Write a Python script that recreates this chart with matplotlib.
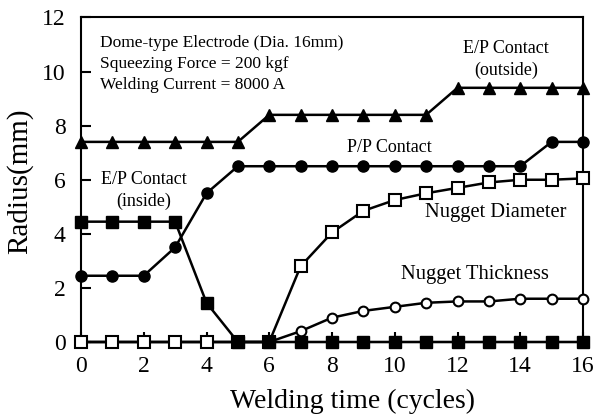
import matplotlib
matplotlib.use("Agg")
import matplotlib.pyplot as plt

plt.rcParams['font.family'] = ['Liberation Serif', 'DejaVu Serif']

cycles = list(range(0, 17))
ep_outside = [7.4, 7.4, 7.4, 7.4, 7.4, 7.4, 8.4, 8.4, 8.4, 8.4, 8.4, 8.4, 9.4, 9.4, 9.4, 9.4, 9.4]
pp_contact = [2.45, 2.45, 2.45, 3.5, 5.5, 6.5, 6.5, 6.5, 6.5, 6.5, 6.5, 6.5, 6.5, 6.5, 6.5, 7.4, 7.4]
ep_inside = [4.45, 4.45, 4.45, 4.45, 1.45, 0, 0, 0, 0, 0, 0, 0, 0, 0, 0, 0, 0]
nugget_diam = [0, 0, 0, 0, 0, 0, 0, 2.8, 4.05, 4.85, 5.25, 5.5, 5.7, 5.9, 6.0, 6.0, 6.05]
nugget_thick = [0, 0, 0, 0, 0, 0, 0, 0.4, 0.9, 1.15, 1.3, 1.45, 1.5, 1.5, 1.6, 1.6, 1.6]

fig = plt.figure(figsize=(5.97, 4.19), dpi=100)
ax = fig.add_axes([81/597, 1-342/419, (583-81)/597, (342-17.5)/419])

lw = 1.8
ax.plot(cycles, ep_outside, '-^', color='black', lw=lw, ms=8, clip_on=False, zorder=3)
ax.plot(cycles, pp_contact, '-o', color='black', lw=lw, ms=8, clip_on=False, zorder=3)
ax.plot(cycles, nugget_thick, '-o', color='black', mfc='white', mec='black', mew=1.5, lw=lw, ms=7, clip_on=False, zorder=3)
ax.plot(cycles, nugget_diam, '-s', color='black', mfc='white', mec='black', mew=1.5, lw=lw, ms=8, clip_on=False, zorder=4)
ax.plot(cycles, ep_inside, '-s', color='black', lw=lw, ms=8, clip_on=False, zorder=5)

ax.set_xlim(0, 16)
ax.set_ylim(0, 12)
ax.set_xticks(range(0, 17, 2))
ax.set_yticks(range(0, 13, 2))
ax.tick_params(direction='in', length=7, width=1.5, labelsize=17)
ax.tick_params(axis='x', pad=10)
ax.tick_params(axis='y', pad=11)
for s in ax.spines.values():
    s.set_linewidth(1.5)

ax.set_xlabel('Welding time (cycles)', fontsize=20)
ax.xaxis.set_label_coords((352-81)/502, -(389-342)/324.5)
ax.set_ylabel('Radius(mm)', fontsize=21)
ax.yaxis.set_label_coords(-(81-33)/502, (342-181)/324.5)

ax.text(0.6, 11.35, 'Dome-type Electrode (Dia. 16mm)\nSqueezing Force = 200 kgf\nWelding Current = 8000 A',
        fontsize=12.5, ha='left', va='top', linespacing=1.4)
ax.text(13.55, 10.45, 'E/P Contact\n(outside)', fontsize=13, ha='center', va='center', linespacing=1.35)
ax.text(9.83, 7.2, 'P/P Contact', fontsize=13, ha='center', va='center')
ax.text(2.0, 5.6, 'E/P Contact\n(inside)', fontsize=13, ha='center', va='center', linespacing=1.35)
ax.text(13.23, 4.8, 'Nugget Diameter', fontsize=14.8, ha='center', va='center')
ax.text(12.56, 2.5, 'Nugget Thickness', fontsize=14.8, ha='center', va='center')

fig.savefig('out.png', dpi=100)
